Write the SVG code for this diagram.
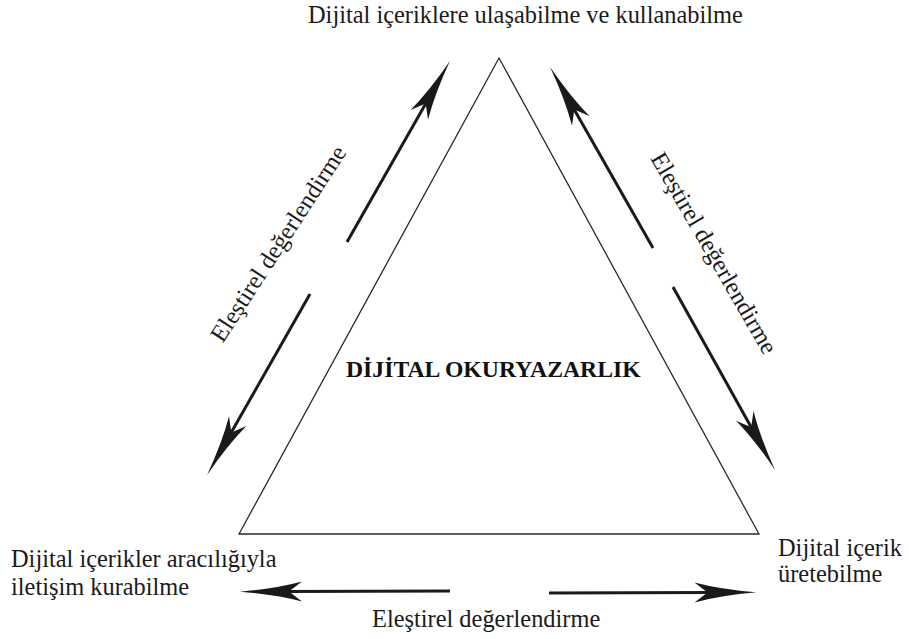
<svg xmlns="http://www.w3.org/2000/svg" width="909" height="639" viewBox="0 0 909 639">
  <style>
    .lbl { font-family: "Liberation Serif", "Times New Roman", serif; font-size: 24.4px; fill: #1a1a1a; }
    .title { font-family: "Liberation Serif", "Times New Roman", serif; font-size: 23.7px; font-weight: bold; fill: #111; }
    .arrow { stroke: #1a1a1a; stroke-width: 3; fill: none; marker-end: url(#head); }
    .edge { stroke: #2a2a2a; stroke-width: 1.3; fill: none; }
  </style>
  <defs>
    <!-- barbed arrowhead; reference point sits just behind the notch -->
    <marker id="head" markerUnits="userSpaceOnUse" viewBox="-20 -12 70 24" refX="0" refY="0" markerWidth="70" markerHeight="24" orient="auto" overflow="visible">
      <path d="M46,0 Q10,-3 -16,-10 L-3,0 L-16,10 Q10,3 46,0 Z" fill="#1a1a1a"/>
    </marker>
  </defs>
  <rect width="909" height="639" fill="#ffffff"/>

  <!-- central triangle -->
  <g id="triangle">
    <polygon class="edge" points="499,58 239,534 759,534"/>
    <text class="title" x="346" y="377">DİJİTAL OKURYAZARLIK</text>
  </g>

  <!-- corner nodes -->
  <g id="node-top">
    <text class="lbl" x="308" y="23">Dijital içeriklere ulaşabilme ve kullanabilme</text>
  </g>
  <g id="node-left">
    <text class="lbl" x="11" y="567">Dijital içerikler aracılığıyla</text>
    <text class="lbl" x="11" y="595">iletişim kurabilme</text>
  </g>
  <g id="node-right">
    <text class="lbl" x="778" y="556">Dijital içerik</text>
    <text class="lbl" x="778" y="582">üretebilme</text>
  </g>

  <!-- evaluation arrows between the corners -->
  <g id="connectors">
    <line class="arrow" x1="347" y1="242" x2="427.2" y2="101"/>
    <line class="arrow" x1="310" y1="294" x2="229.8" y2="435"/>
    <line class="arrow" x1="653" y1="248" x2="572.8" y2="107"/>
    <line class="arrow" x1="673" y1="287" x2="752.6" y2="429.8"/>
    <line class="arrow" x1="450" y1="591" x2="286" y2="591.5"/>
    <line class="arrow" x1="549" y1="593" x2="710.5" y2="592.5"/>
  </g>

  <!-- connector labels -->
  <g id="labels">
    <text class="lbl" text-anchor="middle" transform="translate(285,248) rotate(-57)">Eleştirel değerlendirme</text>
    <text class="lbl" text-anchor="middle" transform="translate(707,257) rotate(60)">Eleştirel değerlendirme</text>
    <text class="lbl" x="372" y="627">Eleştirel değerlendirme</text>
  </g>
</svg>
